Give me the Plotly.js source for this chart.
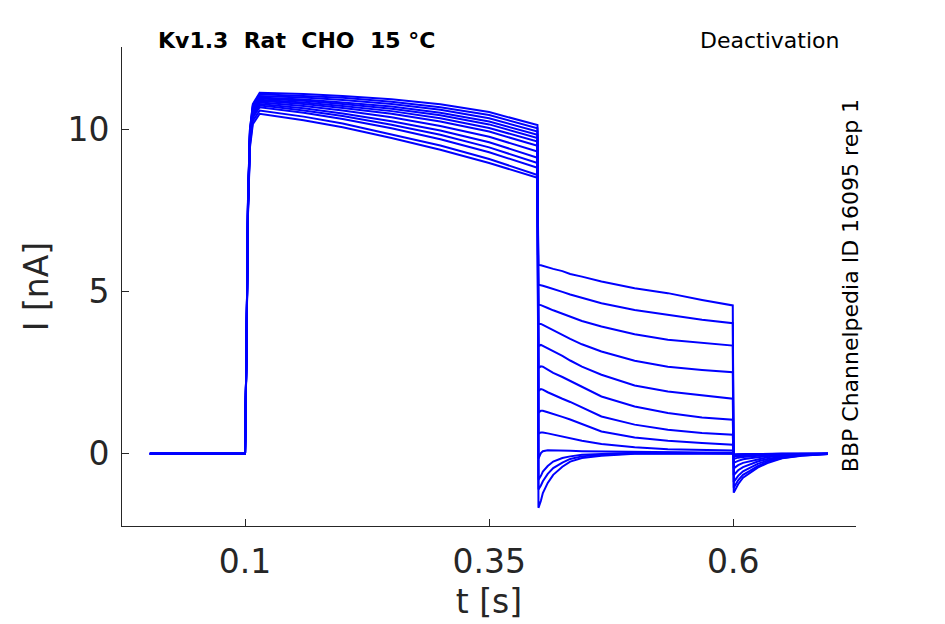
<!DOCTYPE html>
<html>
<head>
<meta charset="utf-8">
<script src="https://cdn.plot.ly/plotly-3.0.1.min.js"></script>
<style>html,body{margin:0;padding:0;background:#fff;}#chart{width:945px;height:624px;}</style>
</head>
<body>
<div id="chart"></div>
<script>
// time samples [s]
const time = [0.0025, 0.0995, 0.1, 0.1015, 0.103, 0.105, 0.108, 0.115, 0.13, 0.16, 0.2, 0.25, 0.3, 0.35, 0.3995,
              0.4005, 0.403, 0.405, 0.41, 0.4156, 0.425, 0.433, 0.445, 0.465, 0.499, 0.533, 0.568, 0.5995,
              0.6005, 0.605, 0.61, 0.617, 0.625, 0.635, 0.65, 0.67, 0.697];

// current [nA] for each sweep
const sweep1 = [0,0,0,3.3,7.8,10.0,10.8,11.15,11.14,11.11,11.05,10.95,10.79,10.55,10.15,
  -1.67,-1.45,-1.21,-0.90,-0.65,-0.40,-0.24,-0.13,-0.06,0.0,0.01,0.01,0.01,
  -0.03,-0.02,-0.02,-0.01,-0.01,0,0,0,0];
const sweep2 = [0,0,0,3.3,7.8,10.0,10.77,11.10,11.09,11.05,10.99,10.87,10.70,10.46,10.05,
  -1.10,-0.98,-0.85,-0.62,-0.44,-0.27,-0.16,-0.08,-0.03,0.01,0.02,0.02,0.01,
  -0.03,-0.02,-0.02,-0.01,-0.01,0,0,0,0];
const sweep3 = [0,0,0,3.3,7.7,9.95,10.72,11.05,11.04,11.0,10.92,10.80,10.62,10.36,9.95,
  -0.80,-0.68,-0.55,-0.38,-0.24,-0.13,-0.08,-0.03,0.0,0.03,0.03,0.02,0.02,
  -0.03,-0.02,-0.02,-0.01,-0.01,0,0,0,0];
const sweep4 = [0,0,0,3.3,7.7,9.9,10.67,11.0,10.98,10.94,10.85,10.72,10.53,10.26,9.85,
  -0.15,0.02,0.08,0.11,0.11,0.10,0.09,0.08,0.07,0.06,0.05,0.04,0.03,
  -0.03,-0.02,-0.02,-0.01,-0.01,0,0,0,0];
const sweep5 = [0,0,0,3.3,7.7,9.87,10.64,10.97,10.95,10.90,10.80,10.65,10.45,10.17,9.75,
  0.62,0.66,0.66,0.63,0.59,0.53,0.48,0.40,0.30,0.20,0.14,0.11,0.10,
  -0.05,-0.04,-0.03,-0.02,-0.02,-0.01,0,0,0];
const sweep6 = [0,0,0,3.3,7.65,9.84,10.6,10.93,10.91,10.85,10.74,10.58,10.36,10.06,9.64,
  1.27,1.33,1.33,1.28,1.22,1.14,1.06,0.92,0.69,0.50,0.40,0.33,0.28,
  -0.09,-0.07,-0.06,-0.05,-0.03,-0.02,-0.01,0,0];
const sweep7 = [0,0,0,3.3,7.6,9.8,10.57,10.90,10.87,10.80,10.68,10.50,10.26,9.95,9.51,
  1.94,2.00,1.98,1.90,1.82,1.70,1.60,1.43,1.15,0.90,0.74,0.64,0.59,
  -0.16,-0.12,-0.10,-0.08,-0.06,-0.04,-0.02,-0.01,0];
const sweep8 = [0,0,0,3.25,7.6,9.77,10.52,10.85,10.82,10.74,10.60,10.39,10.12,9.79,9.33,
  2.65,2.70,2.69,2.60,2.50,2.37,2.26,2.07,1.77,1.46,1.26,1.12,1.05,
  -0.28,-0.22,-0.17,-0.14,-0.10,-0.07,-0.03,-0.01,0];
const sweep9 = [0,0,0,3.25,7.55,9.72,10.48,10.80,10.76,10.67,10.51,10.27,9.98,9.62,9.14,
  3.33,3.36,3.33,3.25,3.15,3.02,2.88,2.69,2.44,2.11,1.92,1.80,1.70,
  -0.45,-0.35,-0.28,-0.23,-0.16,-0.11,-0.05,-0.02,0];
const sweep10 = [0,0,0,3.2,7.5,9.68,10.43,10.75,10.71,10.60,10.43,10.16,9.85,9.46,8.98,
  4.01,4.01,3.98,3.90,3.81,3.68,3.55,3.38,3.16,2.87,2.69,2.59,2.52,
  -0.66,-0.51,-0.41,-0.33,-0.24,-0.16,-0.08,-0.03,0];
const sweep11 = [0,0,0,3.2,7.5,9.63,10.38,10.70,10.65,10.53,10.34,10.05,9.71,9.31,8.83,
  4.60,4.59,4.56,4.50,4.43,4.33,4.23,4.10,3.93,3.69,3.52,3.42,3.34,
  -0.87,-0.68,-0.54,-0.44,-0.31,-0.21,-0.10,-0.04,-0.01];
const sweep12 = [0,0,0,3.2,7.4,9.54,10.28,10.60,10.54,10.41,10.20,9.87,9.52,9.10,8.61,
  5.22,5.21,5.19,5.14,5.08,5.00,4.92,4.82,4.65,4.44,4.29,4.14,4.03,
  -1.05,-0.82,-0.65,-0.53,-0.38,-0.25,-0.13,-0.05,-0.01];
const sweep13 = [0,0,0,3.15,7.35,9.45,10.18,10.50,10.44,10.30,10.08,9.75,9.39,8.98,8.52,
  5.83,5.82,5.80,5.76,5.71,5.64,5.55,5.47,5.32,5.11,4.96,4.75,4.58,
  -1.20,-0.94,-0.74,-0.60,-0.43,-0.29,-0.14,-0.06,-0.01];

const sweeps = [sweep1, sweep2, sweep3, sweep4, sweep5, sweep6, sweep7, sweep8, sweep9, sweep10, sweep11, sweep12, sweep13];

const xTicks = [0.1, 0.35, 0.6];
const xTickLabels = ['0.1', '0.35', '0.6'];
const yTicks = [0, 5, 10];
const yTickLabels = ['0', '5', '10'];

const traces = sweeps.map((s, i) => ({
  x: time, y: s, type: 'scatter', mode: 'lines',
  line: {color: '#0000ff', width: 2},
  hoverinfo: 'x+y', showlegend: false, name: 'sweep ' + (i + 1)
}));

const axisColor = '#262626';
const layout = {
  width: 945, height: 624,
  margin: {l: 122, r: 89, t: 47, b: 98},
  paper_bgcolor: '#ffffff', plot_bgcolor: '#ffffff',
  font: {family: 'DejaVu Sans', color: axisColor},
  xaxis: {
    range: [-0.026, 0.7257], showgrid: false, zeroline: false,
    showline: true, linecolor: axisColor, linewidth: 1,
    ticks: 'inside', ticklen: 7, tickcolor: axisColor, tickwidth: 1,
    tickvals: xTicks, ticktext: xTickLabels,
    tickfont: {size: 33, color: axisColor}, ticklabelstandoff: 6,
    title: {text: 't [s]', font: {size: 33, color: axisColor}, standoff: 10}
  },
  yaxis: {
    range: [-2.23, 12.56], showgrid: false, zeroline: false,
    showline: true, linecolor: axisColor, linewidth: 1,
    ticks: 'inside', ticklen: 7, tickcolor: axisColor, tickwidth: 1,
    tickvals: yTicks, ticktext: yTickLabels,
    tickfont: {size: 33, color: axisColor}, ticklabelstandoff: 5,
    title: {text: 'I [nA]', font: {size: 33, color: axisColor}, standoff: 8}
  },
  annotations: [
    {xref: 'paper', yref: 'paper', x: 0.047, y: 1.0146, xanchor: 'left', yanchor: 'middle',
     text: '<b>Kv1.3  Rat  CHO  15 °C</b>', showarrow: false, font: {size: 22, color: '#000000'}},
    {xref: 'paper', yref: 'paper', x: 0.98, y: 1.0146, xanchor: 'right', yanchor: 'middle',
     text: 'Deactivation', showarrow: false, font: {size: 22, color: '#000000'}},
    {xref: 'paper', yref: 'paper', x: 0.992, y: 0.501, xanchor: 'center', yanchor: 'middle',
     text: 'BBP Channelpedia ID 16095 rep 1', textangle: -90, showarrow: false,
     font: {size: 22, color: '#000000'}}
  ]
};

Plotly.newPlot('chart', traces, layout, {displayModeBar: false, staticPlot: true});
</script>
</body>
</html>
